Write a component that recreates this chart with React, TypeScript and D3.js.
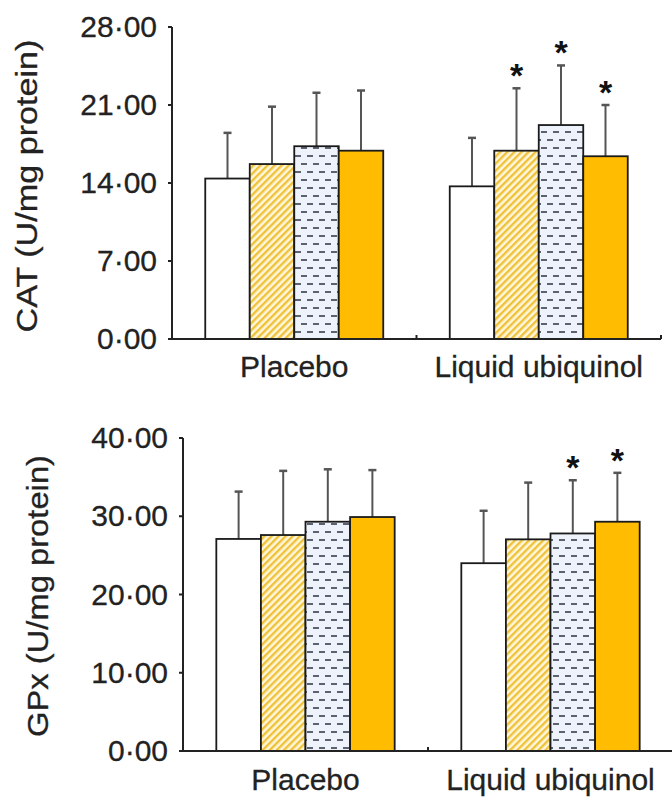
import React from "react";
import * as d3 from "d3";

const groups = ["Placebo", "Liquid ubiquinol"];
const seriesKeys = ["Series 1", "Series 2", "Series 3", "Series 4"];

// CAT panel
const catMeans = [
  [14.4, 15.7, 17.3, 16.9],
  [13.7, 16.9, 19.2, 16.4],
];
const catSD = [
  [4.1, 5.15, 4.8, 5.4],
  [4.35, 5.6, 5.35, 4.6],
];
const catSig = [
  [false, false, false, false],
  [false, true, true, true],
];
const catTicks = [0, 7, 14, 21, 28];

// GPx panel
const gpxMeans = [
  [27.1, 27.6, 29.3, 29.9],
  [24.0, 27.05, 27.8, 29.3],
];
const gpxSD = [
  [6.05, 8.2, 6.7, 6.0],
  [6.7, 7.25, 6.8, 6.25],
];
const gpxSig = [
  [false, false, false, false],
  [false, false, true, true],
];
const gpxTicks = [0, 10, 20, 30, 40];

const FONT = "'Liberation Sans', Arial, Helvetica, sans-serif";
const fills = ["#ffffff", "url(#hatch)", "url(#dash)", "#FFBC00"];
const fmt = (v: number) => d3.format(".2f")(v).replace(".", "·");

type PanelProps = {
  label: string;
  means: number[][];
  sd: number[][];
  sig: boolean[][];
  ticks: number[];
  axisX: number;
  xEnd: number;
  yTop: number;
  yBottom: number;
  labelX: number;
  labelY: number;
  labelLen: number;
  catY: number;
};

function Panel(p: PanelProps) {
  const maxV = p.ticks[p.ticks.length - 1];
  const y = d3.scaleLinear().domain([0, maxV]).range([p.yBottom, p.yTop]);
  const x0 = d3
    .scaleBand<string>()
    .domain(groups)
    .range([p.axisX, p.xEnd])
    .paddingInner(0.272)
    .paddingOuter(0.136);
  const x1 = d3
    .scaleBand<string>()
    .domain(seriesKeys)
    .range([0, x0.bandwidth()])
    .padding(0);
  const step = (p.xEnd - p.axisX) / groups.length;
  const bw = x1.bandwidth();
  return (
    <g>
      {/* y label */}
      <text
        transform={`translate(${p.labelX},${p.labelY}) rotate(-90)`}
        textAnchor="middle"
        fontSize={30}
        fontFamily={FONT}
        fill="#222"
        stroke="#222"
        strokeWidth={0.3}
        textLength={p.labelLen}
        lengthAdjust="spacingAndGlyphs"
      >
        {p.label}
      </text>
      {/* bars */}
      {groups.map((g, gi) => (
        <g key={g}>
          {seriesKeys.map((s, si) => {
            const bx = (x0(g) as number) + (x1(s) as number);
            const m = p.means[gi][si];
            const top = y(m + p.sd[gi][si]);
            const cx = bx + bw / 2;
            return (
              <g key={s}>
                <line x1={cx} x2={cx} y1={y(m)} y2={top} stroke="#555" strokeWidth={2} />
                <line x1={cx - 4} x2={cx + 4} y1={top} y2={top} stroke="#555" strokeWidth={2.5} />
                <rect
                  x={bx}
                  y={y(m)}
                  width={bw}
                  height={p.yBottom - y(m)}
                  fill={fills[si]}
                  stroke="#1a1a1a"
                  strokeWidth={1.8}
                />
                {p.sig[gi][si] && (
                  <text
                    x={cx}
                    y={top - 1}
                    textAnchor="middle"
                    fontSize={34}
                    fontWeight="bold"
                    fontFamily={FONT}
                    fill="#111"
                  >
                    *
                  </text>
                )}
              </g>
            );
          })}
          <text
            x={(x0(g) as number) + x0.bandwidth() / 2}
            y={p.catY}
            textAnchor="middle"
            fontSize={30}
            fontFamily={FONT}
            fill="#222"
            stroke="#222"
            strokeWidth={0.3}
          >
            {g}
          </text>
        </g>
      ))}
      {/* y axis */}
      <line x1={p.axisX} x2={p.axisX} y1={p.yTop} y2={p.yBottom} stroke="#222" strokeWidth={2} />
      {p.ticks.map((t) => (
        <g key={t}>
          <line x1={p.axisX - 4} x2={p.axisX} y1={y(t)} y2={y(t)} stroke="#222" strokeWidth={2} />
          <text
            x={p.axisX - 15}
            y={y(t)}
            dy="0.34em"
            textAnchor="end"
            fontSize={30}
            fontFamily={FONT}
            fill="#222"
            stroke="#222"
            strokeWidth={0.3}
          >
            {fmt(t)}
          </text>
        </g>
      ))}
      {/* x axis */}
      <line x1={p.axisX} x2={p.xEnd} y1={p.yBottom} y2={p.yBottom} stroke="#222" strokeWidth={2} />
      {groups.map((g, gi) => (
        <line
          key={g}
          x1={p.axisX + step * (gi + 1)}
          x2={p.axisX + step * (gi + 1)}
          y1={p.yBottom}
          y2={p.yBottom - 4}
          stroke="#222"
          strokeWidth={2}
        />
      ))}
    </g>
  );
}

export default function App() {
  return (
    <svg
      width={672}
      height={797}
      style={{ position: "absolute", left: 0, top: 0, background: "#fff" }}
    >
      <defs>
        <pattern id="hatch" patternUnits="userSpaceOnUse" width={5} height={5} patternTransform="rotate(45)">
          <rect x={0} y={0} width={5} height={5} fill="#FFF7DC" />
          <rect x={0} y={0} width={2.4} height={5} fill="#EFC23A" />
        </pattern>
        <pattern id="dash" patternUnits="userSpaceOnUse" width={12} height={16}>
          <rect x={0} y={0} width={12} height={16} fill="#EEF3FB" />
          <rect x={1} y={3} width={6} height={2} fill="#5d6270" />
          <rect x={7} y={11} width={6} height={2} fill="#5d6270" />
          <rect x={-5} y={11} width={6} height={2} fill="#5d6270" />
        </pattern>
      </defs>
      <Panel
        label="CAT (U/mg protein)"
        means={catMeans}
        sd={catSD}
        sig={catSig}
        ticks={catTicks}
        axisX={172}
        xEnd={661}
        yTop={27}
        yBottom={339}
        labelX={37}
        labelY={186}
        labelLen={293}
        catY={377}
      />
      <Panel
        label="GPx (U/mg protein)"
        means={gpxMeans}
        sd={gpxSD}
        sig={gpxSig}
        ticks={gpxTicks}
        axisX={183}
        xEnd={673}
        yTop={438}
        yBottom={751}
        labelX={48}
        labelY={596}
        labelLen={282}
        catY={790}
      />
    </svg>
  );
}
